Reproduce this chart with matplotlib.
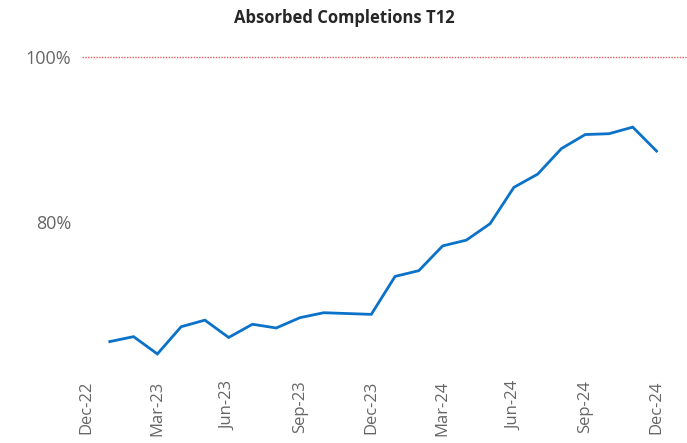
import numpy as np
import matplotlib
matplotlib.use("Agg")
import matplotlib.pyplot as plt
from matplotlib.ticker import FuncFormatter

categories = ["Dec-22", "Jan-23", "Feb-23", "Mar-23", "Apr-23", "May-23", "Jun-23",
              "Jul-23", "Aug-23", "Sep-23", "Oct-23", "Nov-23", "Dec-23",
              "Jan-24", "Feb-24", "Mar-24", "Apr-24", "May-24", "Jun-24",
              "Jul-24", "Aug-24", "Sep-24", "Oct-24", "Nov-24", "Dec-24"]
values = [np.nan, 0.655, 0.661, 0.640, 0.673, 0.681, 0.660, 0.676, 0.6715, 0.684,
          0.690, 0.689, 0.688, 0.734, 0.741, 0.771, 0.778, 0.798, 0.842, 0.858,
          0.889, 0.906, 0.907, 0.915, 0.886]
target = 1.0
label_every = 3

fig = plt.figure(figsize=(6.87, 4.43), dpi=100)
ax = fig.add_axes([82/687, 1-375/443, (686-82)/687, (375-57)/443])

x = np.arange(len(categories))
ax.plot(x, values, color="#0a72c8", lw=2.0, solid_joinstyle="miter")
ax.axhline(target, color="#e35d5d", lw=1.0, ls=(0, (1, 1)), clip_on=False)

ax.set_xlim(-0.17, 25.24)
ax.set_ylim(0.6145, 1.0)
ax.set_yticks([0.8, 1.0])
ax.yaxis.set_major_formatter(FuncFormatter(lambda v, p: f"{v*100:.0f}%"))
ax.set_xticks(x[::label_every])
ax.set_xticklabels(categories[::label_every], rotation=90, va="top", ha="center")

for s in ax.spines.values():
    s.set_visible(False)
ax.tick_params(axis="both", length=0, colors="#666666", labelsize=12)
ax.tick_params(axis="y", pad=8, labelsize=13)
ax.tick_params(axis="x", pad=4)
for t in ax.get_xticklabels() + ax.get_yticklabels():
    t.set_fontfamily("Open Sans")

fig.text(344/687, 1-18/443, "Absorbed Completions T12", ha="center", va="center",
         fontsize=12, fontweight="bold", family="Open Sans", color="#262626")

fig.savefig("out.png", dpi=100)
